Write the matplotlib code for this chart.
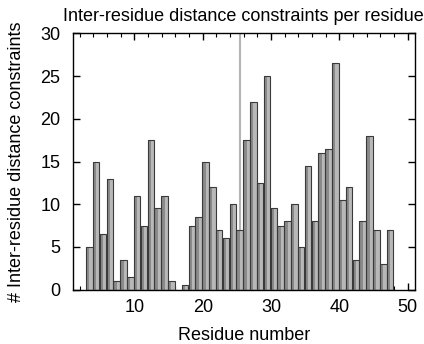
import numpy as np
import matplotlib
matplotlib.use("Agg")
import matplotlib.pyplot as plt
from matplotlib.ticker import MultipleLocator

plt.rcParams['font.family'] = ['Liberation Sans', 'DejaVu Sans']

# residue numbers and constraint counts
residues = list(range(3, 48))
constraints = [5, 15, 6.5, 13, 1, 3.5, 1.5, 11, 7.5, 17.5,
               9.5, 11, 1, 0, 0.5, 7.5, 8.5, 15, 12, 7,
               6, 10, 7, 17.5, 22, 12.5, 25, 9.5, 7.5, 8,
               10, 5, 14.5, 8, 16, 16.5, 26.5, 10.5, 12, 3.5,
               8, 18, 7, 3, 7]
marked_residue = 25

x_ticks = [10, 20, 30, 40, 50]
y_ticks = [0, 5, 10, 15, 20, 25, 30]

# boxes are drawn a bit to the right of the residue number
shift = 0.4
width = 0.96
fs = 13

fig = plt.figure(figsize=(4.24, 3.44), dpi=100)
ax = fig.add_axes([0.172, 0.158, 0.806, 0.745])

x = np.array(residues) + shift
y = np.array(constraints)

ax.axvline(marked_residue + shift, color='#b4b4b4', lw=1.5, zorder=0)

# two-tone boxes with a dark outline
ax.bar(x - width / 4, y, width=width / 2, color='#8a8a8a', lw=0, zorder=2)
ax.bar(x + width / 4, y, width=width / 2, color='#b8b8b8', lw=0, zorder=2)
ax.bar(x, y, width=width, facecolor='none', edgecolor='#3a3a3a', lw=0.8, zorder=3)

ax.set_xlim(1, 51)
ax.set_ylim(0, 30)
ax.set_xticks(x_ticks)
ax.set_yticks(y_ticks)
ax.xaxis.set_minor_locator(MultipleLocator(2))

ax.tick_params(which='both', direction='in', top=True, right=True, labelsize=fs)
ax.tick_params(which='major', length=5, width=1)
ax.tick_params(which='minor', length=3, width=0.8)
ax.tick_params(axis='x', pad=7)
ax.tick_params(axis='y', pad=9)
for s in ax.spines.values():
    s.set_linewidth(1.0)

ax.set_xlabel("Residue number", fontsize=fs, labelpad=8)
ax.set_ylabel("# Inter-residue distance constraints", fontsize=fs, labelpad=11)
ax.set_title("Inter-residue distance constraints per residue", fontsize=fs, pad=9)

fig.savefig("out.png", dpi=100)
